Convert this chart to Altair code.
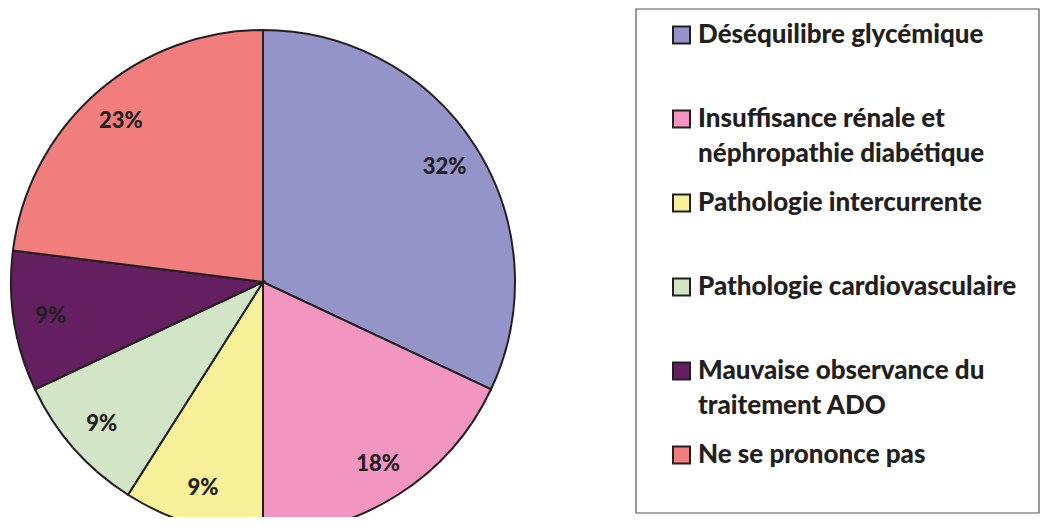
import altair as alt
import pandas as pd

categories = [
    "Déséquilibre glycémique",
    "Insuffisance rénale et néphropathie diabétique",
    "Pathologie intercurrente",
    "Pathologie cardiovasculaire",
    "Mauvaise observance du traitement ADO",
    "Ne se prononce pas",
]
values = [32, 18, 9, 9, 9, 23]
labels = ["32%", "18%", "9%", "9%", "9%", "23%"]
legend_lines = [
    ["Déséquilibre glycémique"],
    ["Insuffisance rénale et", "néphropathie diabétique"],
    ["Pathologie intercurrente"],
    ["Pathologie cardiovasculaire"],
    ["Mauvaise observance du", "traitement ADO"],
    ["Ne se prononce pas"],
]
colors = ["#9494C8", "#F295C0", "#F7F29A", "#D2E6C7", "#631F5F", "#F27D7D"]

W, H = 1032, 509
cx, cy, R = 255, 274, 252
INK = "#231f20"
FONT = "Lato"

pie_df = pd.DataFrame({"cat": categories, "value": values, "label": labels,
                       "order": list(range(len(categories)))})
color_scale = alt.Scale(domain=categories, range=colors)

base = alt.Chart(pie_df).encode(
    theta=alt.Theta("value:Q", stack=True),
    order=alt.Order("order:Q"),
    x=alt.value(cx),
    y=alt.value(cy),
)
arcs = base.mark_arc(radius=R, stroke=INK, strokeWidth=2).encode(
    color=alt.Color("cat:N", scale=color_scale, legend=None)
)
pct = base.mark_text(radius=215, font=FONT, fontWeight=900, fontSize=22, color=INK).encode(
    text="label:N"
)

# legend box
box = alt.Chart(pd.DataFrame({"a": [0]})).mark_rect(
    fill="white", stroke="#555555", strokeWidth=1.2
).encode(x=alt.value(628), x2=alt.value(1031), y=alt.value(1), y2=alt.value(505))

row0, step, line_h = 27, 84, 35
sw_rows = []
txt_rows = []
for i, (c, lines) in enumerate(zip(categories, legend_lines)):
    yc = row0 + step * i
    sw_rows.append({"cat": c, "x1": 665, "x2": 682, "y1": yc - 8.5, "y2": yc + 8.5})
    for j, ln in enumerate(lines):
        txt_rows.append({"t": ln, "x": 690, "y": yc + line_h * j})

swatches = alt.Chart(pd.DataFrame(sw_rows)).mark_rect(stroke=INK, strokeWidth=2).encode(
    x=alt.X("x1:Q", scale=None, axis=None),
    x2="x2:Q",
    y=alt.Y("y1:Q", scale=None, axis=None),
    y2="y2:Q",
    color=alt.Color("cat:N", scale=color_scale, legend=None),
)
leg_text = alt.Chart(pd.DataFrame(txt_rows)).mark_text(
    align="left", baseline="middle", font=FONT, fontWeight=900, fontSize=26, color=INK
).encode(
    x=alt.X("x:Q", scale=None, axis=None),
    y=alt.Y("y:Q", scale=None, axis=None),
    text="t:N",
)

chart = alt.layer(arcs, pct, box, swatches, leg_text).properties(
    width=W, height=H, autosize=alt.AutoSizeParams(type="none"), padding=0
).configure(background="white", view=alt.ViewConfig(stroke=None))

chart.save("out.html", embed_options={"renderer": "svg", "actions": False})
